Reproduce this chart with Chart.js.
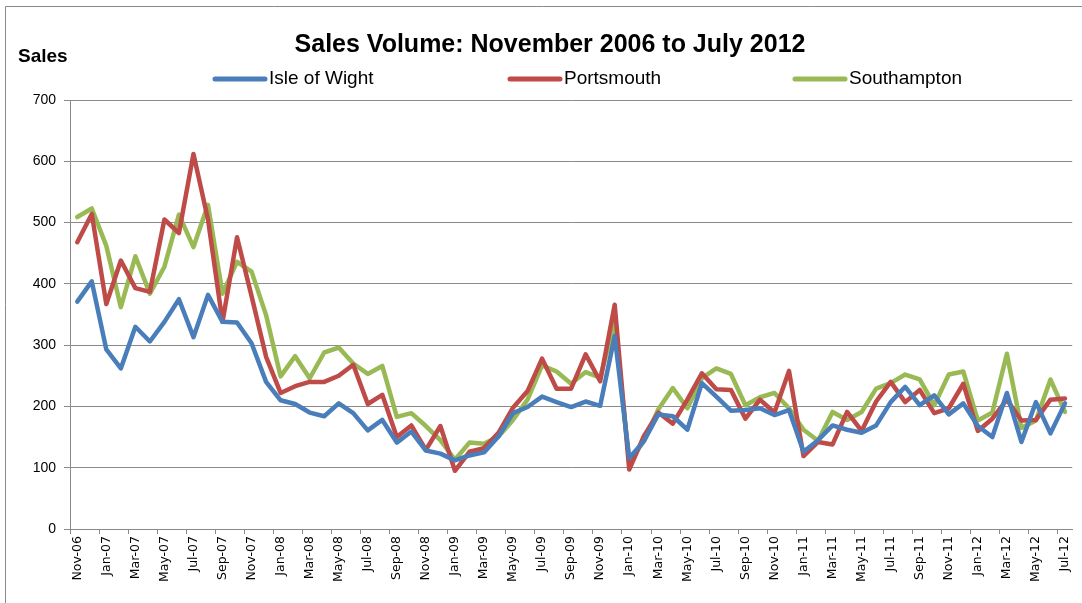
<!DOCTYPE html>
<html>
<head>
<meta charset="utf-8">
<title>Sales Volume</title>
<script src="https://cdn.jsdelivr.net/npm/chart.js@4.4.1/dist/chart.umd.min.js"></script>
<style>
  html, body { margin: 0; padding: 0; background: #fff; }
  #wrap { width: 1082px; height: 603px; position: relative; }
</style>
</head>
<body>
<div id="wrap"><canvas id="chart" width="1082" height="603"></canvas></div>
<script>
const months = [
  'Nov-06','Dec-06',
  'Jan-07','Feb-07','Mar-07','Apr-07','May-07','Jun-07','Jul-07','Aug-07','Sep-07','Oct-07','Nov-07','Dec-07',
  'Jan-08','Feb-08','Mar-08','Apr-08','May-08','Jun-08','Jul-08','Aug-08','Sep-08','Oct-08','Nov-08','Dec-08',
  'Jan-09','Feb-09','Mar-09','Apr-09','May-09','Jun-09','Jul-09','Aug-09','Sep-09','Oct-09','Nov-09','Dec-09',
  'Jan-10','Feb-10','Mar-10','Apr-10','May-10','Jun-10','Jul-10','Aug-10','Sep-10','Oct-10','Nov-10','Dec-10',
  'Jan-11','Feb-11','Mar-11','Apr-11','May-11','Jun-11','Jul-11','Aug-11','Sep-11','Oct-11','Nov-11','Dec-11',
  'Jan-12','Feb-12','Mar-12','Apr-12','May-12','Jun-12','Jul-12'
];

const isleOfWight = [
  371,404,293,262,330,306,338,375,313,382,338,337,303,240,
  210,204,190,184,205,189,161,178,141,159,128,123,
  112,120,125,151,189,199,216,207,199,208,201,315,
  116,143,187,184,162,238,216,193,194,197,186,194,
  126,145,169,162,157,169,207,232,202,218,187,205,
  168,150,222,142,207,156,205
];
const portsmouth = [
  468,514,367,438,393,387,505,483,612,505,338,476,380,281,
  222,233,240,240,250,268,204,219,150,169,129,168,
  95,126,132,157,198,225,278,229,229,285,241,366,
  97,151,190,172,211,254,228,227,180,211,190,258,
  119,142,138,191,160,208,240,207,227,189,197,237,
  160,180,211,177,178,211,213
];
const southampton = [
  509,523,462,362,445,384,428,513,460,529,384,436,420,349,
  249,282,246,288,296,270,253,266,183,189,168,145,
  113,141,139,151,178,211,267,257,237,256,247,338,
  110,143,195,230,197,246,262,253,202,215,222,197,
  162,144,191,178,191,229,238,252,244,202,252,257,
  177,190,286,165,177,244,191
];

const seriesNames = ['Isle of Wight', 'Portsmouth', 'Southampton'];
const seriesColors = ['#4A7EBB', '#BE4B48', '#98B954'];
const yTicks = [0, 100, 200, 300, 400, 500, 600, 700];

const gridGray = '#8A8A8A';

// title, "Sales" label, legend and outer frame
const decor = {
  id: 'decor',
  beforeDraw(chart) {
    const ctx = chart.ctx;
    ctx.save();
    ctx.strokeStyle = '#8A8A8A';
    ctx.lineWidth = 1;
    ctx.beginPath();
    ctx.moveTo(5.5, 603);
    ctx.lineTo(5.5, 6.5);
    ctx.lineTo(1082, 6.5);
    ctx.stroke();
    ctx.restore();
  },
  afterDraw(chart) {
    const ctx = chart.ctx;
    ctx.save();
    ctx.fillStyle = '#000';
    ctx.textBaseline = 'middle';
    ctx.textAlign = 'center';
    ctx.font = 'bold 25px "Liberation Sans", Arial, sans-serif';
    ctx.fillText('Sales Volume: November 2006 to July 2012', 550, 45);

    ctx.textAlign = 'left';
    ctx.font = 'bold 19px "Liberation Sans", Arial, sans-serif';
    ctx.fillText('Sales', 18, 57);

    const starts = [215, 510, 795];
    ctx.font = '19px "Liberation Sans", Arial, sans-serif';
    chart.data.datasets.forEach((ds, i) => {
      const x = starts[i];
      ctx.strokeStyle = ds.borderColor;
      ctx.lineWidth = 5;
      ctx.lineCap = 'round';
      ctx.beginPath();
      ctx.moveTo(x, 79);
      ctx.lineTo(x + 50, 79);
      ctx.stroke();
      ctx.fillStyle = '#000';
      ctx.fillText(ds.label, x + 54, 79);
    });
    ctx.restore();
  }
};

new Chart(document.getElementById('chart'), {
  type: 'line',
  data: {
    labels: months,
    datasets: [isleOfWight, portsmouth, southampton].map((values, i) => ({
      label: seriesNames[i],
      data: values,
      borderColor: seriesColors[i],
      backgroundColor: seriesColors[i],
      borderWidth: 4.5,
      pointRadius: 0,
      pointHoverRadius: 0,
      tension: 0,
      borderJoinStyle: 'round',
      borderCapStyle: 'round',
      fill: false
    }))
  },
  options: {
    responsive: false,
    animation: false,
    layout: { padding: { top: 100, right: 3, bottom: 0, left: 0 } },
    plugins: {
      legend: { display: false },
      title: { display: false },
      tooltip: { enabled: false }
    },
    scales: {
      x: {
        offset: true,
        afterFit: (s) => { s.height = 74; },
        grid: {
          offset: true,
          drawOnChartArea: false,
          tickLength: 5,
          tickColor: (c) => (c.index % 2 === 0 ? gridGray : 'rgba(0,0,0,0)')
        },
        border: { color: gridGray, width: 1 },
        ticks: {
          autoSkip: false,
          minRotation: 90,
          maxRotation: 90,
          padding: 2,
          color: '#000',
          font: { family: '"DejaVu Sans", Verdana, sans-serif', size: 12.5 },
          callback: function (value, index) {
            return index % 2 === 0 ? this.getLabelForValue(value) : '';
          }
        }
      },
      y: {
        min: yTicks[0],
        max: yTicks[yTicks.length - 1],
        afterFit: (s) => { s.width = 70; },
        afterBuildTicks: (s) => { s.ticks = yTicks.map(v => ({ value: v })); },
        grid: { color: gridGray, lineWidth: 1, tickLength: 6, tickColor: gridGray },
        border: { color: gridGray, width: 1 },
        ticks: {
          padding: 8,
          color: '#000',
          font: { family: '"Liberation Sans", Arial, sans-serif', size: 14 }
        }
      }
    }
  },
  plugins: [decor]
});
</script>
</body>
</html>
